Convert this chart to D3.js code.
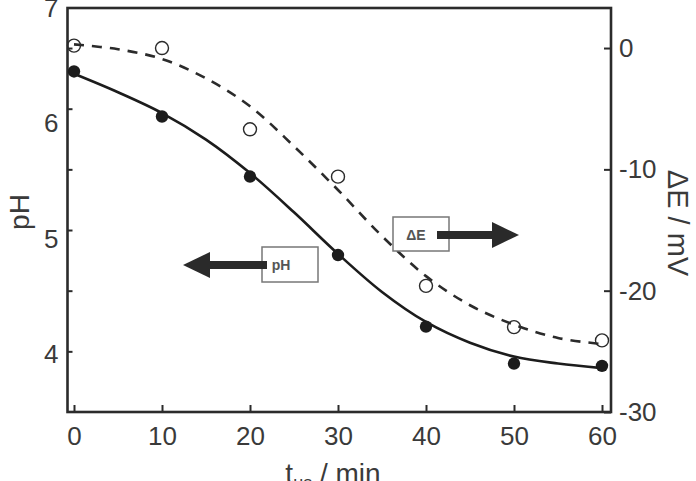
<!DOCTYPE html>
<html>
<head>
<meta charset="utf-8">
<script src="https://cdn.jsdelivr.net/npm/d3@7"></script>
<style>
  html, body { margin: 0; padding: 0; background: #fff; }
  svg { display: block; font-family: "Liberation Sans", Arial, sans-serif; }
</style>
</head>
<body>
<script>
const width = 696;
const height = 481;

// measured points
const times = [0, 10, 20, 30, 40, 50, 60];
const phValues = [6.45, 6.06, 5.54, 4.86, 4.24, 3.92, 3.90];
const deltaE = [0.2, 0.0, -6.7, -10.6, -19.6, -23.0, -24.1];

// fitted curves, every 5 min
const fitTimes = [0, 5, 10, 15, 20, 25, 30, 35, 40, 45, 50, 55, 60];
const phFit = [6.43, 6.27, 6.09, 5.86, 5.57, 5.23, 4.87, 4.54, 4.28, 4.10, 3.98, 3.92, 3.88];
const deFit = [0.3, -0.1, -0.9, -2.5, -4.8, -8.1, -11.7, -15.5, -18.8, -21.2, -22.8, -23.9, -24.4];

// tick labels
const xTicks = [0, 10, 20, 30, 40, 50, 60];
const phTicks = [4, 5, 6, 7];
const deTicks = [0, -10, -20, -30];
const innerTicks = [0, -5, -10, -15, -20, -25];

const frame = {left: 67.5, right: 611, top: 8, bottom: 412};

const x = d3.scaleLinear().domain([0, 60]).range([74, 602]);
const yPH = d3.scaleLinear().domain([3.5, 7]).range([frame.bottom, frame.top]);
const yDE = d3.scaleLinear().domain([-30, 3.3]).range([frame.bottom, frame.top]);

const ink = "#2b2b2b";
const textInk = "#3a3a3a";

const svg = d3.select("body").append("svg")
  .attr("width", width)
  .attr("height", height);

// axes
const styleAxis = g => {
  g.select(".domain").remove();
  g.selectAll(".tick line").attr("stroke", ink).attr("stroke-width", 2);
  g.selectAll(".tick text").attr("fill", textInk).attr("font-size", 26)
    .attr("font-family", "Liberation Sans, Arial, sans-serif");
};

svg.append("g")
  .attr("transform", `translate(0,${frame.bottom})`)
  .call(d3.axisBottom(x).tickValues(xTicks).tickSizeInner(-7).tickSizeOuter(0).tickPadding(15)
    .tickFormat(d => String(d)))
  .call(styleAxis);

svg.append("g")
  .attr("transform", `translate(${frame.left},0)`)
  .call(d3.axisLeft(yPH).tickValues(phTicks).tickSize(0).tickPadding(9)
    .tickFormat(d => String(d)))
  .call(styleAxis);

// left side ticks follow the right axis spacing
svg.append("g")
  .attr("transform", `translate(${frame.left},0)`)
  .call(d3.axisRight(yDE).tickValues(innerTicks).tickSizeInner(5).tickSizeOuter(0).tickFormat(""))
  .call(styleAxis);

svg.append("g")
  .attr("transform", `translate(${frame.right},0)`)
  .call(d3.axisRight(yDE).tickValues(deTicks).tickSizeInner(-7).tickSizeOuter(0).tickPadding(8)
    .tickFormat(d => String(d)))
  .call(styleAxis);

// frame
svg.append("rect")
  .attr("x", frame.left)
  .attr("y", frame.top)
  .attr("width", frame.right - frame.left)
  .attr("height", frame.bottom - frame.top)
  .attr("fill", "none")
  .attr("stroke", ink)
  .attr("stroke-width", 2.6);

// axis titles
svg.append("text")
  .attr("transform", "translate(29,212) rotate(-90)")
  .attr("text-anchor", "middle")
  .attr("font-size", 28)
  .attr("fill", textInk)
  .text("pH");

svg.append("text")
  .attr("transform", "translate(668,223) rotate(90)")
  .attr("text-anchor", "middle")
  .attr("font-size", 29)
  .attr("fill", textInk)
  .text("ΔE / mV");

const xt = svg.append("text")
  .attr("x", 333)
  .attr("y", 483)
  .attr("text-anchor", "middle")
  .attr("font-size", 28)
  .attr("fill", textInk);
xt.append("tspan").text("t");
xt.append("tspan").attr("font-size", 18).attr("dy", 6).text("us");
xt.append("tspan").attr("dy", -6).text(" / min");

// fitted curves
const phLine = d3.line()
  .x((d, i) => x(fitTimes[i]))
  .y(d => yPH(d))
  .curve(d3.curveCatmullRom.alpha(0.5));

const deLine = d3.line()
  .x((d, i) => x(fitTimes[i]))
  .y(d => yDE(d))
  .curve(d3.curveCatmullRom.alpha(0.5));

svg.append("path")
  .datum(deFit)
  .attr("fill", "none")
  .attr("stroke", ink)
  .attr("stroke-width", 2.6)
  .attr("stroke-dasharray", "10,8")
  .attr("d", deLine);

svg.append("path")
  .datum(phFit)
  .attr("fill", "none")
  .attr("stroke", "#1c1c1c")
  .attr("stroke-width", 2.6)
  .attr("d", phLine);

// points
svg.append("g").selectAll("circle")
  .data(deltaE)
  .join("circle")
  .attr("cx", (d, i) => x(times[i]))
  .attr("cy", d => yDE(d))
  .attr("r", 6.5)
  .attr("fill", "none")
  .attr("stroke", ink)
  .attr("stroke-width", 1.4);

svg.append("g").selectAll("circle")
  .data(phValues)
  .join("circle")
  .attr("cx", (d, i) => x(times[i]))
  .attr("cy", d => yPH(d))
  .attr("r", 6.2)
  .attr("fill", "#1c1c1c");

// annotations: boxed label with arrow towards its axis
const notes = [
  {label: "pH", box: [262, 247, 56, 35], tx: 281, ty: 265, shaft: [267, 210], tip: 183, yc: 265},
  {label: "ΔE", box: [393, 217, 56, 34], tx: 416, ty: 235, shaft: [437, 492], tip: 519, yc: 235}
];

for (const n of notes) {
  const g = svg.append("g");
  g.append("rect")
    .attr("x", n.box[0]).attr("y", n.box[1])
    .attr("width", n.box[2]).attr("height", n.box[3])
    .attr("fill", "#fff")
    .attr("stroke", "#777")
    .attr("stroke-width", 1.5);
  g.append("line")
    .attr("x1", n.shaft[0]).attr("x2", n.shaft[1])
    .attr("y1", n.yc).attr("y2", n.yc)
    .attr("stroke", "#2a2a2a")
    .attr("stroke-width", 8);
  g.append("path")
    .attr("d", `M${n.tip},${n.yc} L${n.shaft[1]},${n.yc - 13} L${n.shaft[1]},${n.yc + 13} Z`)
    .attr("fill", "#2a2a2a");
  g.append("text")
    .attr("x", n.tx).attr("y", n.ty)
    .attr("text-anchor", "middle")
    .attr("dominant-baseline", "central")
    .attr("font-size", 14)
    .attr("font-weight", "bold")
    .attr("fill", "#555")
    .text(n.label);
}
</script>
</body>
</html>
